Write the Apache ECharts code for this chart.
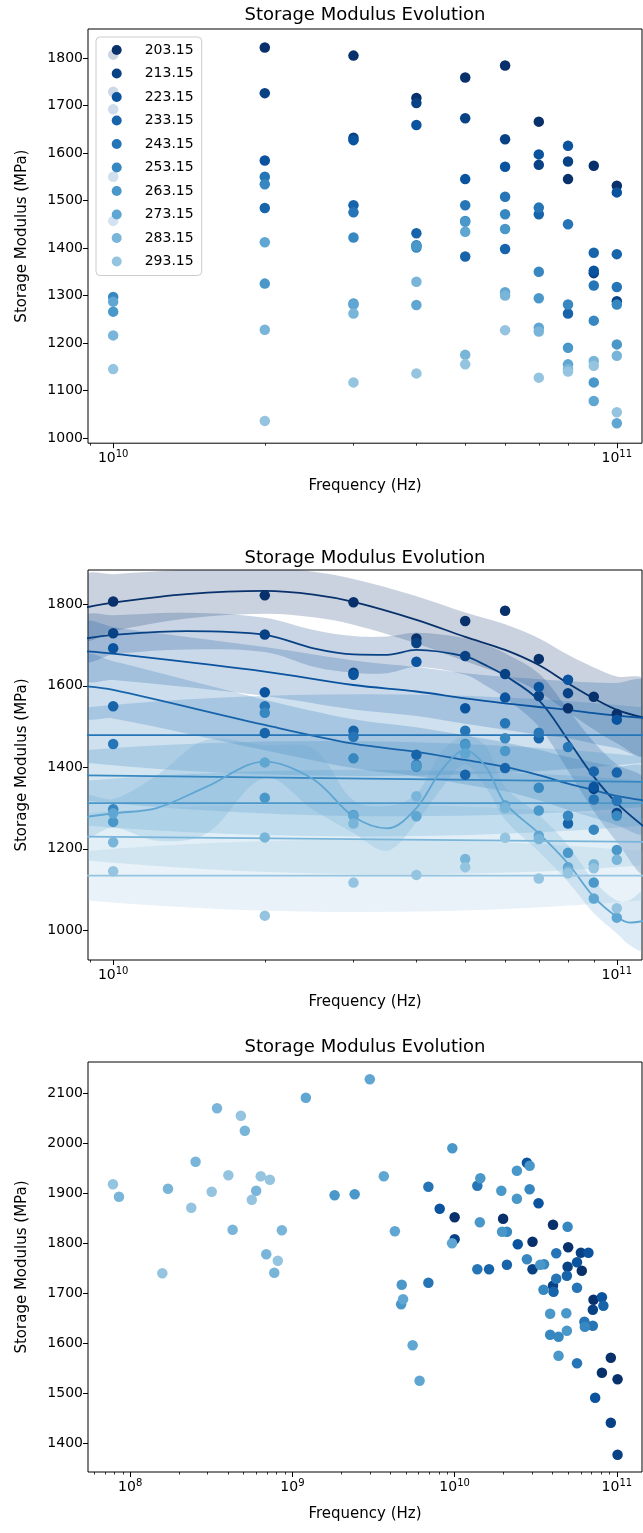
<!DOCTYPE html>
<html><head><meta charset="utf-8">
<script src="https://cdn.jsdelivr.net/npm/echarts@6/dist/echarts.min.js"></script>
<style>html,body{margin:0;padding:0;background:#fff}#c{width:643px;height:1533px}</style>
</head><body><div id="c"></div>
<script>
// ---------------- DATA ----------------
const TEMPS = ['203.15','213.15','223.15','233.15','243.15','253.15','263.15','273.15','283.15','293.15'];
const FREQ_HZ = [1e10,2e10,3e10,4e10,5e10,6e10,7e10,8e10,9e10,1e11];
// storage modulus (MPa) at each frequency, one array per temperature
const E203 = [1807,1822,1805,1716,1759,1784,1666,1545,1573,1531];
const E213 = [1729,1726,1632,1705,1673,1629,1575,1582,1347,1288];
const E223 = [1692,1584,1627,1659,1545,1571,1597,1615,1352,1517];
const E233 = [1550,1484,1490,1431,1382,1398,1471,1262,1390,1387];
const E243 = [1457,1550,1475,1406,1490,1508,1485,1450,1321,1318];
const E253 = [1297,1534,1422,1401,1457,1471,1350,1281,1247,1281];
const E263 = [1266,1325,1283,1404,1455,1440,1294,1190,1117,1197];
const E273 = [1287,1412,1281,1280,1434,1307,1232,1155,1078,1031];
const E283 = [1216,1228,1262,1329,1175,1300,1224,1145,1162,1173];
const E293 = [1145,1036,1117,1136,1155,1227,1127,1140,1152,1054];
const E_ALL = [E203,E213,E223,E233,E243,E253,E263,E273,E283,E293];

// fitted curves (panel 2): frequency, mean, half band width
const F203_F = [8.8e9,1e10,1.4e10,2e10,2.5e10,3e10,4e10,5e10,6e10,7e10,8e10,9e10,1e11,1.13e11];
const F203_M = [1792,1804,1825,1833,1824,1806,1762,1720,1688,1651,1606,1569,1541,1522];
const F203_H = [78,70,60,56,56,56,58,60,63,66,70,76,82,92];
const F213_F = [8.8e9,1e10,1.4e10,2e10,2.5e10,3e10,3.5e10,4e10,5e10,5.5e10,6e10,7e10,8e10,9e10,1e11,1.13e11];
const F213_M = [1716,1725,1734,1725,1692,1677,1676,1688,1672,1650,1625,1565,1467,1377,1312,1255];
const F213_H = [55,48,45,42,45,45,45,42,45,50,55,65,75,85,95,115];
const F223_F = [8.8e9,1e10,2e10,3e10,4e10,5e10,6e10,7e10,8e10,9e10,1e11,1.13e11];
const F223_M = [1685,1679,1635,1602,1586,1569,1557,1548,1541,1533,1527,1521];
const F223_H = [70,65,60,60,60,62,65,68,70,75,80,90];
const F233_F = [8.8e9,1e10,2e10,3e10,4e10,5e10,6e10,7e10,8e10,9e10,1e11,1.13e11];
const F233_M = [1599,1590,1504,1458,1438,1418,1401,1381,1360,1344,1330,1319];
const F233_H = [75,70,62,60,60,60,60,62,65,68,72,80];
const F243_F = [8.8e9,1.13e11];
const F243_M = [1479,1479];
const F243_H = [68,68];
const F253_F = [8.8e9,1.13e11];
const F253_M = [1380,1364];
const F253_H = [62,62];
const F263_F = [8.8e9,1.13e11];
const F263_M = [1312,1312];
const F263_H = [55,55];
const F273_F = [8.8e9,1e10,1.22e10,1.53e10,2e10,2.5e10,3e10,3.5e10,4e10,4.5e10,5e10,5.5e10,6e10,7e10,8e10,9e10,1e11,1.06e11,1.13e11];
const F273_M = [1278,1287,1300,1352,1414,1370,1279,1250,1300,1395,1442,1400,1312,1238,1164,1082,1033,1019,1023];
const F273_H = [50,35,80,115,40,75,40,55,35,45,35,50,40,45,45,40,40,55,72];
const F283_F = [8.8e9,1.13e11];
const F283_M = [1230,1217];
const F283_H = [58,58];
const F293_F = [8.8e9,1.13e11];
const F293_M = [1134,1134];
const F293_H = [60,60];
const FIT_F = [F203_F,F213_F,F223_F,F233_F,F243_F,F253_F,F263_F,F273_F,F283_F,F293_F];
const FIT_M = [F203_M,F213_M,F223_M,F233_M,F243_M,F253_M,F263_M,F273_M,F283_M,F293_M];
const FIT_H = [F203_H,F213_H,F223_H,F233_H,F243_H,F253_H,F263_H,F273_H,F283_H,F293_H];

// panel 3 (shifted master curve): frequency and modulus per temperature
const M203_F = [1.0e10,1.99e10,3.02e10,4.04e10,5.01e10,6.08e10,7.18e10,8.09e10,9.18e10,1.01e11];
const M203_V = [1852,1849,1803,1837,1792,1745,1687,1541,1571,1528];
const M213_F = [1.0e10,3.02e10,4.04e10,4.97e10,6.0e10,7.11e10,9.18e10,1.01e11];
const M213_V = [1808,1748,1715,1753,1781,1667,1441,1377];
const M223_F = [8.09e9,2.45e10,2.79e10,3.29e10,5.68e10,6.68e10,8.09e10,7.35e10];
const M223_V = [1869,1798,1961,1880,1762,1781,1692,1491];
const M233_F = [1.63e10,2.1e10,4.07e10,4.92e10,8.26e10];
const M233_V = [1748,1757,1703,1735,1675];
const M243_F = [6.89e9,6.89e9,1.38e10,1.38e10,4.23e10,4.23e10,5.68e10,5.68e10,6.31e10,7.11e10];
const M243_V = [1913,1721,1915,1748,1780,1729,1560,1711,1643,1635];
const M253_F = [2.1e10,2.9e10,2.79e10,3.56e10,3.53e10,4.97e10,3.88e10,4.37e10,6.35e10];
const M253_V = [1823,1908,1768,1758,1707,1833,1617,1613,1633];
const M263_F = [1.82e9,2.42e9,4.72e9,4.68e9,9.68e9,1.44e10,1.43e10,1.94e10,1.96e10,2.42e10,2.42e10,2.9e10,3.37e10,3.88e10,4.88e10,4.92e10,4.37e10];
const M263_V = [1896,1898,1717,1678,1990,1930,1842,1905,1823,1945,1889,1955,1757,1659,1660,1625,1575];
const M273_F = [1.21e9,3.0e9,3.66e9,4.28e9,4.81e9,5.51e9,6.08e9,9.64e9];
const M273_V = [2091,2128,1934,1824,1688,1596,1525,1800];
const M283_F = [8.53e7,1.71e8,2.53e8,3.43e8,4.28e8,5.09e8,5.98e8,6.9e8,7.73e8,8.61e8];
const M283_V = [1893,1909,1963,2070,1827,2025,1905,1778,1741,1826];
const M293_F = [7.83e7,1.578e8,2.38e8,3.18e8,4.03e8,4.81e8,5.62e8,6.38e8,7.26e8,8.13e8];
const M293_V = [1918,1740,1871,1903,1936,2055,1887,1934,1927,1765];
const M_F = [M203_F,M213_F,M223_F,M233_F,M243_F,M253_F,M263_F,M273_F,M283_F,M293_F];
const M_V = [M203_V,M213_V,M223_V,M233_V,M243_V,M253_V,M263_V,M273_V,M283_V,M293_V];

// tick labels
const Y1_TICKS = [1000,1100,1200,1300,1400,1500,1600,1700,1800];
const Y2_TICKS = [1000,1200,1400,1600,1800];
const Y3_TICKS = [1400,1500,1600,1700,1800,1900,2000,2100];
const X12_DECADES = [1e10,1e11];
const X3_DECADES = [1e8,1e9,1e10,1e11];

// ---------------- STYLE ----------------
const COLORS = ['#08306b','#084285','#0a539e','#1764ab','#2575b7','#3787c0','#4a98c9','#60a6d2','#79b5d9','#94c4df'];
const FONT = 'DejaVu Sans';
const lg = Math.log10;

function minorTicks(lo, hi) {
  const out = [];
  for (let e = lo; e <= hi; e++) for (let k = 2; k <= 9; k++) out.push(lg(k * Math.pow(10, e)));
  return out;
}

const supRich = {
  b: {fontSize: 14, fontFamily: FONT, color: '#000'},
  s: {fontSize: 10, fontFamily: FONT, color: '#000', padding: [0, 0, 8, 0]}
};
const supFmt = v => '{b|10}{s|' + Math.round(v) + '}';

function xMajor(grid, min, max, decades, name) {
  const vals = decades.map(lg);
  return {
    type: 'value', gridIndex: grid, min, max, position: 'bottom',
    name, nameLocation: 'middle', nameGap: 35,
    nameTextStyle: {fontFamily: FONT, fontSize: 15, color: '#000'},
    axisLine: {show: false, onZero: false},
    splitLine: {show: false},
    axisTick: {show: true, customValues: vals, length: 5, lineStyle: {color: '#000', width: 1}},
    axisLabel: {show: true, customValues: vals, margin: 6, formatter: supFmt, rich: supRich}
  };
}
function xMinor(grid, min, max, lo, hi) {
  return {
    type: 'value', gridIndex: grid, min, max, position: 'bottom',
    axisLine: {show: false, onZero: false}, splitLine: {show: false},
    axisLabel: {show: false},
    axisTick: {show: true, customValues: minorTicks(lo, hi).filter(v => v > min && v < max), length: 2.5, lineStyle: {color: '#000', width: 0.8}}
  };
}
function yAxisDef(grid, min, max, ticks) {
  return {
    type: 'value', gridIndex: grid, min, max,
    name: 'Storage Modulus (MPa)', nameLocation: 'middle', nameGap: 58,
    nameTextStyle: {fontFamily: FONT, fontSize: 15, color: '#000'},
    axisLine: {show: false, onZero: false}, splitLine: {show: false},
    axisTick: {show: true, customValues: ticks, length: 5, lineStyle: {color: '#000', width: 1}},
    axisLabel: {show: true, customValues: ticks, margin: 5, fontFamily: FONT, fontSize: 14, color: '#000',
      formatter: v => String(Math.round(v))}
  };
}
function titleDef(top) {
  return {text: 'Storage Modulus Evolution', left: 365, top, padding: 0,
    textAlign: 'center',
    textStyle: {fontFamily: FONT, fontSize: 18, fontWeight: 'normal', color: '#000', lineHeight: 20}};
}

const X12_MIN = 9.95, X12_MAX = 11.05;
const X3_MIN = 7.74, X3_MAX = 11.155;
const DOT = 10.5;

const series = [];
// panel 1 scatter
TEMPS.forEach((t, i) => {
  series.push({
    name: t, type: 'scatter', xAxisIndex: 0, yAxisIndex: 0, symbolSize: DOT, z: 3,
    itemStyle: {color: COLORS[i], opacity: 1},
    data: FREQ_HZ.map((f, j) => [lg(f), E_ALL[i][j]])
  });
});
// panel 2 bands
TEMPS.forEach((t, i) => {
  const fr = FIT_F[i], me = FIT_M[i], hw = FIT_H[i];
  series.push({
    name: t + ' band', type: 'custom', xAxisIndex: 2, yAxisIndex: 1, z: 1, clip: true, silent: true,
    data: fr.map((f, j) => [lg(f), me[j] - hw[j], me[j] + hw[j]]),
    renderItem: (params, api) => {
      if (params.dataIndex !== 0) return null;
      const up = fr.map((f, j) => api.coord([lg(f), me[j] + hw[j]]));
      const lo = fr.map((f, j) => api.coord([lg(f), me[j] - hw[j]])).reverse();
      return {type: 'polygon', shape: {points: up.concat(lo), smooth: 0.35},
        style: {fill: COLORS[i], opacity: 0.22, stroke: 'none'}};
    }
  });
});
// panel 2 fitted lines
TEMPS.forEach((t, i) => {
  series.push({
    name: t + ' fit', type: 'line', xAxisIndex: 2, yAxisIndex: 1, z: 2, smooth: 0.35, showSymbol: false, clip: true, silent: true,
    lineStyle: {color: COLORS[i], width: 1.8},
    data: FIT_F[i].map((f, j) => [lg(f), FIT_M[i][j]])
  });
});
// panel 2 scatter
TEMPS.forEach((t, i) => {
  series.push({
    name: t + ' data', type: 'scatter', xAxisIndex: 2, yAxisIndex: 1, symbolSize: DOT, z: 3,
    itemStyle: {color: COLORS[i], opacity: 1},
    data: FREQ_HZ.map((f, j) => [lg(f), E_ALL[i][j]])
  });
});
// panel 3 scatter
TEMPS.forEach((t, i) => {
  series.push({
    name: t + ' master', type: 'scatter', xAxisIndex: 4, yAxisIndex: 2, symbolSize: DOT, z: 3,
    itemStyle: {color: COLORS[i], opacity: 1},
    data: M_F[i].map((f, j) => [lg(f), M_V[i][j]])
  });
});

const option = {
  animation: false,
  backgroundColor: '#fff',
  textStyle: {fontFamily: FONT},
  title: [titleDef(5), titleDef(548), titleDef(1037)],
  grid: [
    {left: 88, top: 29, width: 554, height: 414.2, show: true, borderColor: '#000', borderWidth: 1, containLabel: false},
    {left: 88, top: 570, width: 554, height: 390, show: true, borderColor: '#000', borderWidth: 1, containLabel: false},
    {left: 88, top: 1062, width: 554, height: 410, show: true, borderColor: '#000', borderWidth: 1, containLabel: false}
  ],
  xAxis: [
    xMajor(0, X12_MIN, X12_MAX, X12_DECADES, 'Frequency (Hz)'),
    xMinor(0, X12_MIN, X12_MAX, 9, 10),
    xMajor(1, X12_MIN, X12_MAX, X12_DECADES, 'Frequency (Hz)'),
    xMinor(1, X12_MIN, X12_MAX, 9, 10),
    xMajor(2, X3_MIN, X3_MAX, X3_DECADES, 'Frequency (Hz)'),
    xMinor(2, X3_MIN, X3_MAX, 7, 10)
  ],
  yAxis: [
    yAxisDef(0, 989, 1861, Y1_TICKS),
    yAxisDef(1, 927.1, 1884.2, Y2_TICKS),
    yAxisDef(2, 1342.6, 2162.6, Y3_TICKS)
  ],
  legend: {
    data: TEMPS, orient: 'vertical', left: 96, top: 37,
    padding: [6, 8, 7, 15.7], itemWidth: 10, itemHeight: 10, itemGap: 9.5, icon: 'circle',
    backgroundColor: 'rgba(255,255,255,0.8)', borderColor: '#cccccc', borderWidth: 1, borderRadius: 4,
    selectedMode: false,
    formatter: n => '{p| }' + n,
    textStyle: {fontFamily: FONT, fontSize: 14, color: '#000', lineHeight: 14, rich: {p: {width: 18}}}
  },
  series
};

const chart = echarts.init(document.getElementById('c'), null, {renderer: 'canvas', width: 643, height: 1533});
chart.setOption(option);
</script>
</body></html>
